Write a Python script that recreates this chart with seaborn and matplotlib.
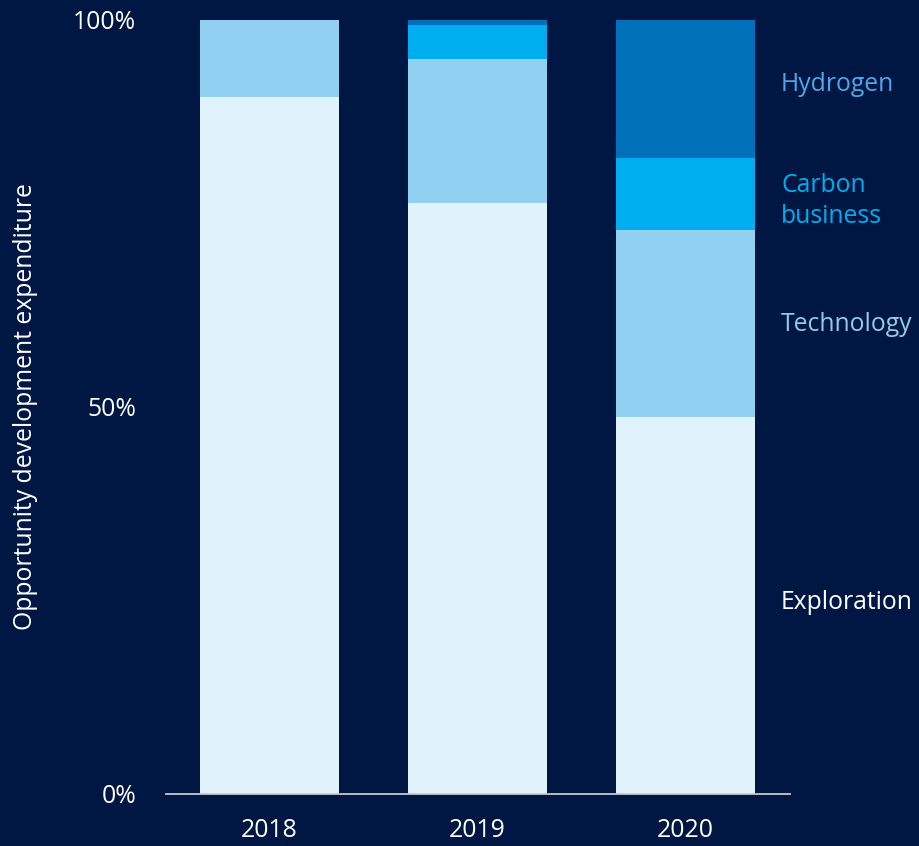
import matplotlib
matplotlib.use("Agg")
import matplotlib.pyplot as plt
import seaborn as sns
import pandas as pd
import numpy as np

# Share of opportunity development expenditure by year (%)
years = ["2018", "2019", "2020"]
exploration = [90.1, 76.4, 48.7]
technology = [9.9, 18.5, 24.1]
carbon_business = [0.0, 4.5, 9.4]
hydrogen = [0.0, 0.6, 17.8]

segment_names = ["Exploration", "Technology", "Carbon\nbusiness", "Hydrogen"]
segment_values = [exploration, technology, carbon_business, hydrogen]
segment_colors = ["#E0F2FC", "#92D0F2", "#00AEEF", "#0070BA"]
label_colors = ["#FFFFFF", "#8FCDEE", "#00AEEF", "#4FA6EA"]

bg = "#001744"
fs = 17.8

sns.set_theme(style="white")
plt.rcParams["font.family"] = ["Open Sans", "DejaVu Sans"]

fig = plt.figure(figsize=(9.2, 8.46), dpi=100, facecolor=bg)
ax = fig.add_axes([0.1799, 0.0615, 0.6783, 0.9149])
ax.set_facecolor(bg)

# Stack by drawing cumulative totals from the top segment down
cum = np.cumsum(np.array(segment_values), axis=0)
for i in range(len(segment_names) - 1, -1, -1):
    df = pd.DataFrame({"year": years, "value": cum[i]})
    sns.barplot(data=df, x="year", y="value", color=segment_colors[i],
                saturation=1, width=0.668, ax=ax, edgecolor="none",
                linewidth=0)

ax.set_xlim(-0.5, 2.5)
ax.set_ylim(0, 100)
ax.set_yticks([0, 50, 100])
ax.set_yticklabels(["0%", "50%", "100%"])
ax.set_xlabel("")
ax.set_ylabel("Opportunity development expenditure", color="white",
              fontsize=fs, labelpad=25)
ax.tick_params(axis="y", length=0, pad=21, labelsize=fs, labelcolor="white")
ax.tick_params(axis="x", length=0, pad=17.5, labelsize=fs, labelcolor="white")

for s in ["top", "right", "left"]:
    ax.spines[s].set_visible(False)
ax.spines["bottom"].set_color("#C8C8C8")
ax.spines["bottom"].set_linewidth(1.3)

# Segment labels to the right of the last bar
label_y = [24.7, 60.6, 76.6, 91.6]
for name, y, c in zip(segment_names, label_y, label_colors):
    ax.text(2.459, y, name, color=c, fontsize=fs, ha="left", va="center",
            linespacing=1.32, clip_on=False)

fig.savefig("out.png", dpi=100, facecolor=bg)
